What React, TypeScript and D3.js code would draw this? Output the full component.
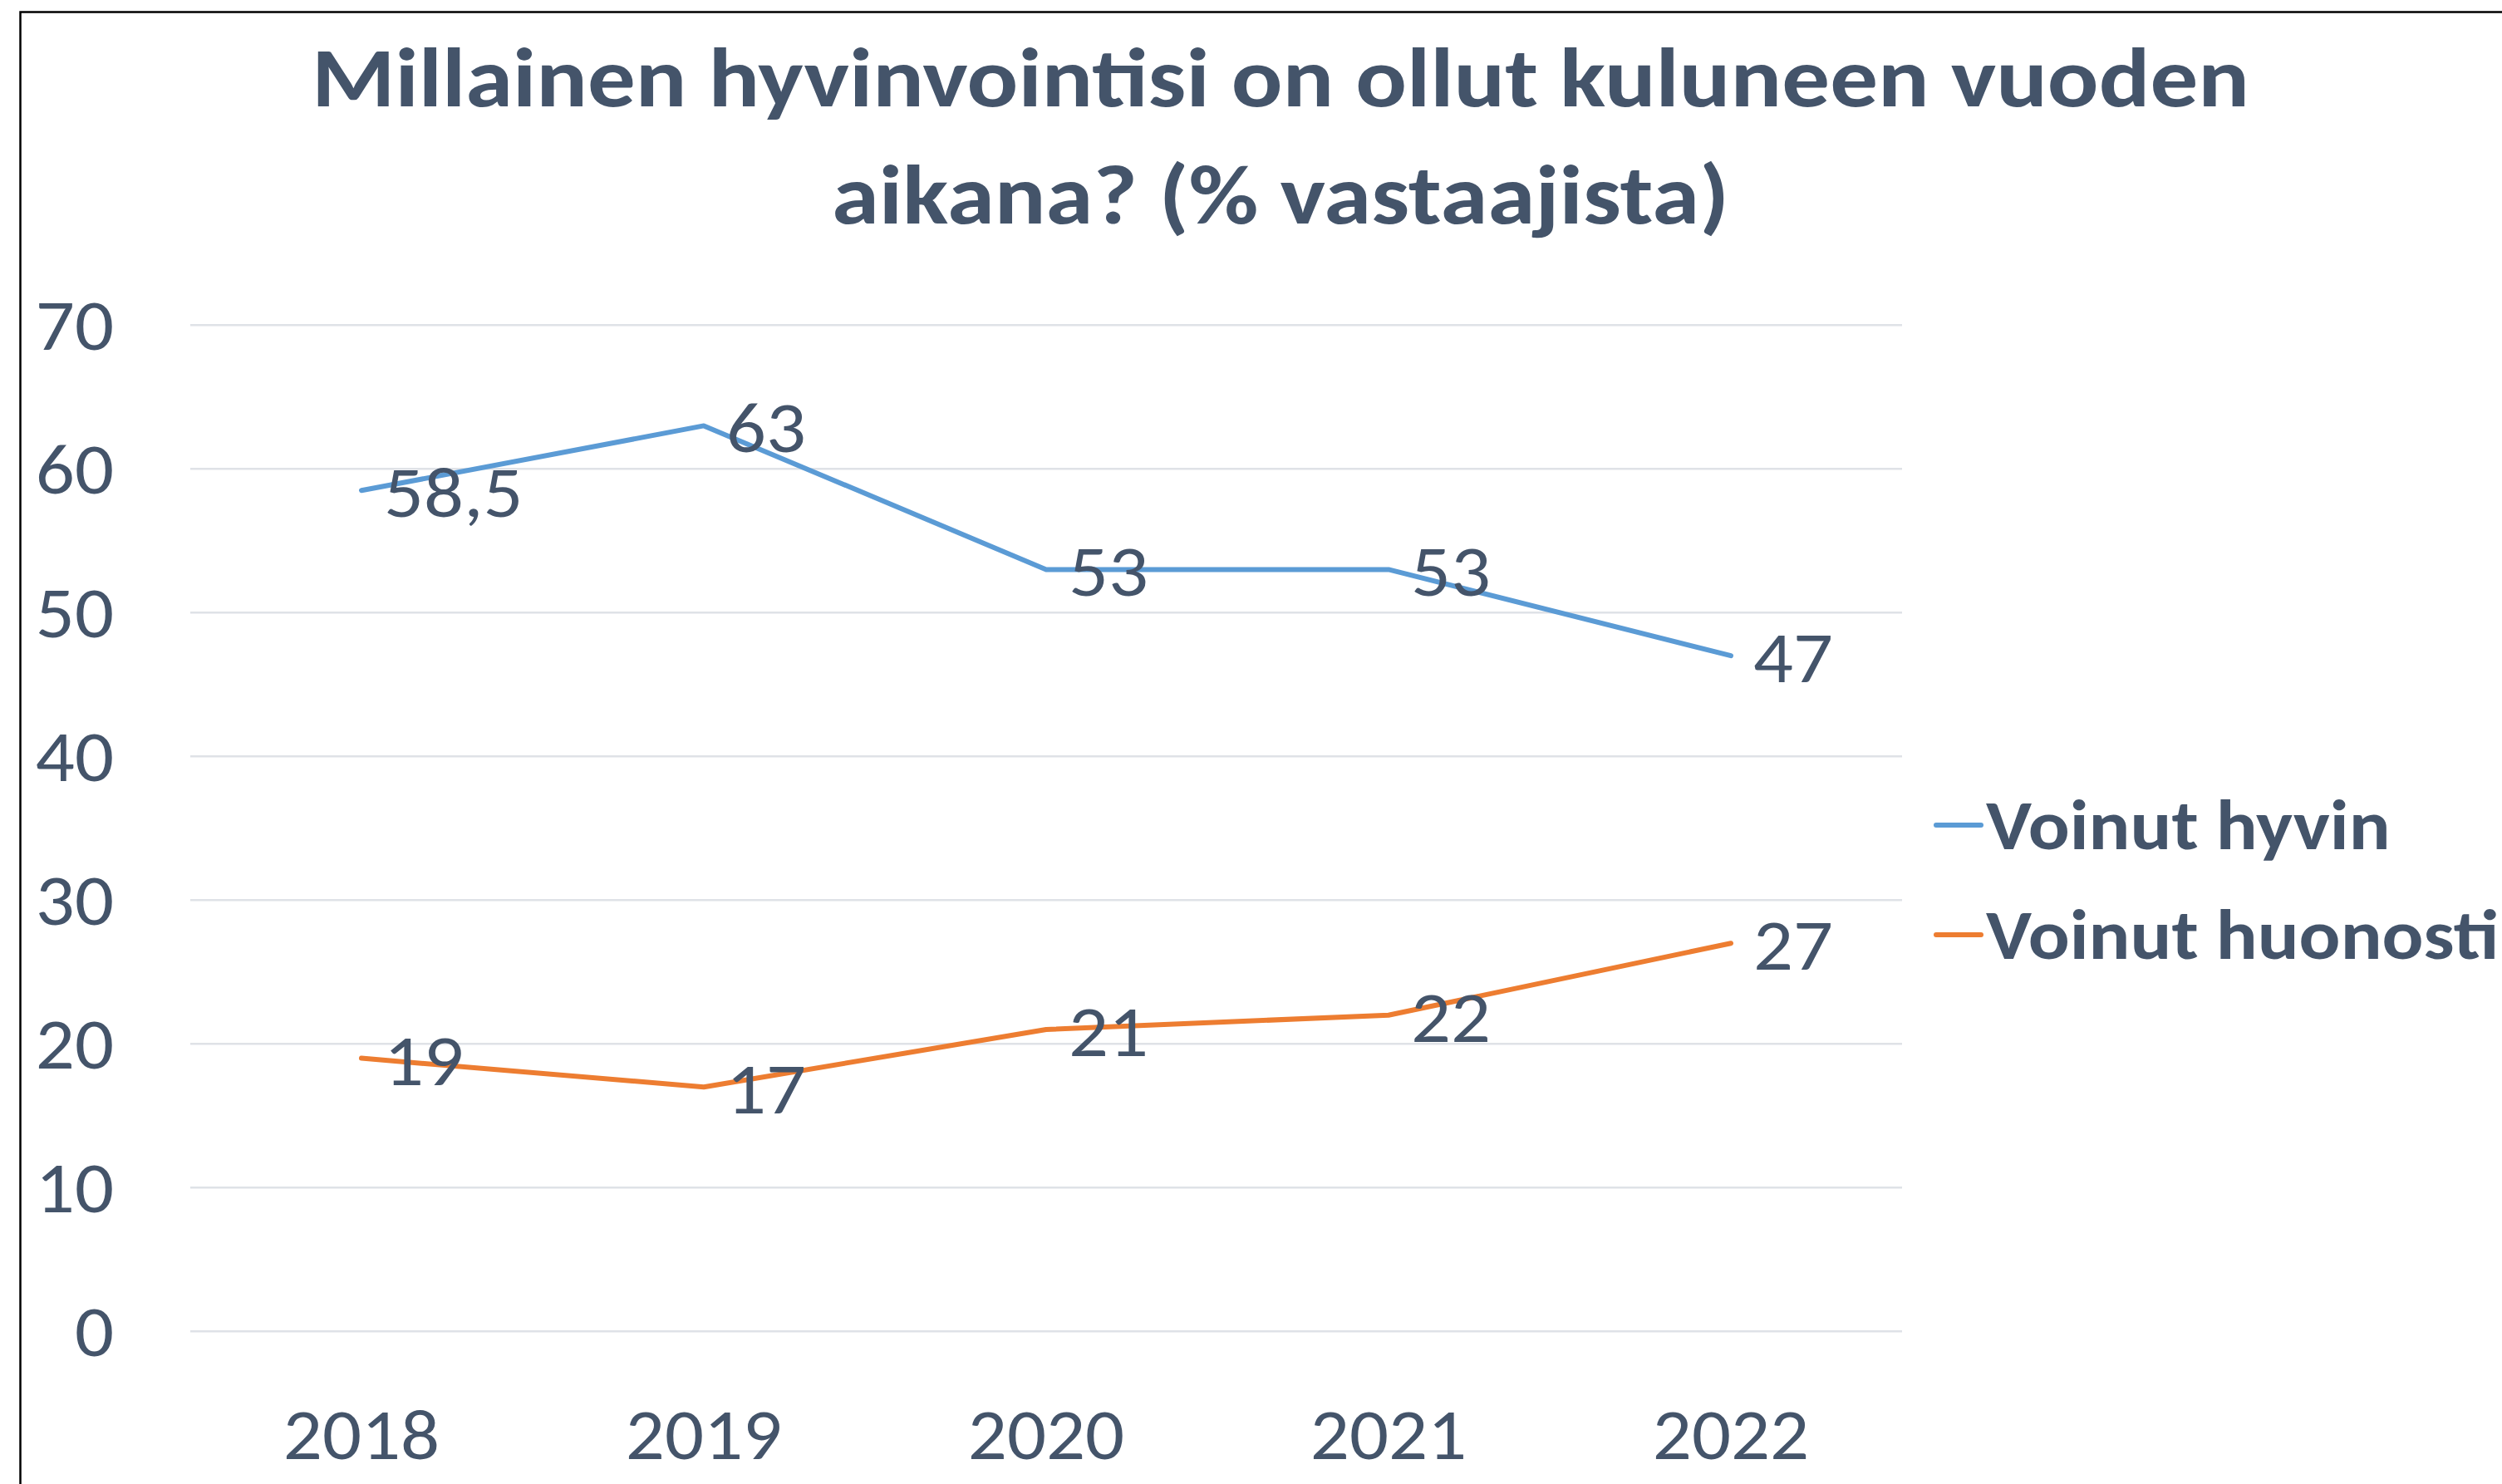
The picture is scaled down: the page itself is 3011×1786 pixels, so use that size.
import React from "react";
import * as d3 from "d3";

const years = ["2018", "2019", "2020", "2021", "2022"];
const hyvin = [58.5, 63, 53, 53, 47];
const huonosti = [19, 17, 21, 22, 27];
const yTicks = [0, 10, 20, 30, 40, 50, 60, 70];
const seriesNames = ["Voinut hyvin", "Voinut huonosti"];
const seriesColors = ["#5B9BD5", "#ED7D31"];
const titleLines = ["Millainen hyvinvointisi on ollut kuluneen vuoden", "aikana? (% vastaajista)"];

const W = 3011;
const H = 1786;
const TEXT = "#44546A";
const FONT = "Carlito, Lato, 'Open Sans', sans-serif";
const NUM_SX = 1.08;
const LEG_SX = 1.095;

export default function App() {
  const x = d3.scalePoint<string>().domain(years).range([229, 2289]).padding(0.5);
  const y = d3.scaleLinear().domain([0, 70]).range([1602.3, 391.3]);
  const line = d3
    .line<number>()
    .x((_, i) => x(years[i]) as number)
    .y((d) => y(d));
  const series = [hyvin, huonosti];
  const fmt = (v: number) => String(v).replace(".", ",");

  return (
    <svg
      width={W}
      height={H}
      viewBox={`0 0 ${W} ${H}`}
      style={{ position: "absolute", left: 0, top: 0, background: "#fff" }}
      fontFamily={FONT}
    >
      <rect x={0} y={0} width={W} height={H} fill="#fff" />
      <rect x={24.5} y={14.5} width={W + 100} height={H + 100} fill="none" stroke="#000" strokeWidth={2.5} />
      {titleLines.map((t, i) => (
        <text
          key={t}
          x={1541}
          y={128 + i * 141}
          textAnchor="middle"
          fontSize={102}
          fontWeight={700}
          fill={TEXT}
          textLength={i === 0 ? 2332 : 1080}
          lengthAdjust="spacingAndGlyphs"
        >
          {t}
        </text>
      ))}
      {yTicks.map((t) => (
        <g key={t}>
          <line x1={229} x2={2289} y1={y(t)} y2={y(t)} stroke="#DFE2E7" strokeWidth={2.5} />
          <text
            transform={`translate(137,${y(t) + 30}) scale(${NUM_SX},1)`}
            textAnchor="end"
            fontSize={86}
            fill={TEXT}
          >
            {t}
          </text>
        </g>
      ))}
      {years.map((yr) => (
        <text
          key={yr}
          transform={`translate(${x(yr)},1756) scale(${NUM_SX},1)`}
          textAnchor="middle"
          fontSize={86}
          fill={TEXT}
        >
          {yr}
        </text>
      ))}
      {series.map((s, si) => (
        <g key={si}>
          <path
            d={line(s) as string}
            fill="none"
            stroke={seriesColors[si]}
            strokeWidth={6}
            strokeLinecap="round"
            strokeLinejoin="round"
          />
          {s.map((v, i) => (
            <text
              key={i}
              transform={`translate(${(x(years[i]) as number) + 27},${y(v) + 32}) scale(${NUM_SX + 0.02},1)`}
              fontSize={86}
              fill={TEXT}
            >
              {fmt(v)}
            </text>
          ))}
        </g>
      ))}
      {seriesNames.map((n, i) => (
        <g key={n}>
          <line
            x1={2330}
            x2={2384}
            y1={993 + i * 132}
            y2={993 + i * 132}
            stroke={seriesColors[i]}
            strokeWidth={6}
            strokeLinecap="round"
          />
          <text
            transform={`translate(2390,${993 + i * 132 + 29}) scale(${LEG_SX},1)`}
            fontSize={85}
            fontWeight={700}
            fill={TEXT}
          >
            {n}
          </text>
        </g>
      ))}
    </svg>
  );
}
